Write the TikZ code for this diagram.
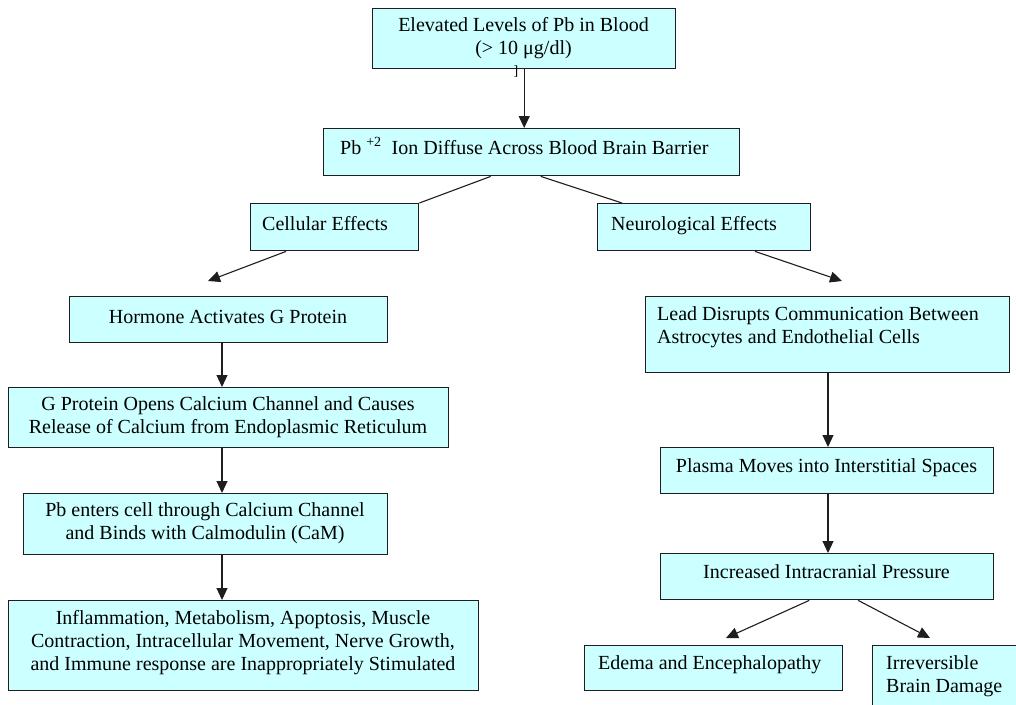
\documentclass[tikz,border=0pt]{standalone}
\usepackage{fontspec}
\setmainfont{Liberation Serif}
\usetikzlibrary{arrows.meta}
\definecolor{boxfill}{RGB}{204,255,255}
\definecolor{edge}{RGB}{30,30,30}
\begin{document}
\begin{tikzpicture}[x=1pt,y=-1pt,
  box/.style={draw=edge, line width=1.4pt, fill=boxfill, inner sep=0pt, anchor=north west},
  txt/.style={inner sep=0pt, font=\fontsize{20}{23}\selectfont, text=black},
  arr/.style={draw=edge, line width=1.1pt, -{Triangle[width=11pt,length=12pt]}},
  ln/.style={draw=edge, line width=1.1pt}]
\useasboundingbox (0,0) rectangle (1016,704);
\clip (0,0) rectangle (1016,704);
\fill[white] (0,0) rectangle (1016,704);

% boxes
\node[box, minimum width=303pt, minimum height=60pt] (top) at (372,8) {};
\node[box, minimum width=416pt, minimum height=47pt] (ion) at (323,128) {};
\node[box, minimum width=168pt, minimum height=47pt] (cell) at (250,203) {};
\node[box, minimum width=213pt, minimum height=47pt] (neuro) at (597,203) {};
\node[box, minimum width=318pt, minimum height=46pt] (horm) at (69,296) {};
\node[box, minimum width=440pt, minimum height=60pt] (gprot) at (8,387) {};
\node[box, minimum width=364pt, minimum height=61pt] (pbent) at (23,493) {};
\node[box, minimum width=470pt, minimum height=90pt] (infl) at (8,600) {};
\node[box, minimum width=364pt, minimum height=76pt] (lead) at (645,296) {};
\node[box, minimum width=333pt, minimum height=46pt] (plasma) at (660,447) {};
\node[box, minimum width=333pt, minimum height=46pt] (icp) at (660,553) {};
\node[box, minimum width=258pt, minimum height=45pt] (edema) at (584,645) {};
\node[box, minimum width=160pt, minimum height=80pt] (irrev) at (872,645) {};

% texts
\node[txt, align=center] (ttop) at (523.5,38) {Elevated Levels of Pb in Blood\\(> 10 μg/dl)};
\node[font=\fontsize{14}{14}\selectfont, inner sep=0pt] (stray) at (516,72) {]};
\node[txt, anchor=base west] (tion) at (340,154) {Pb \textsuperscript{+2}\ \ Ion Diffuse Across Blood Brain Barrier};
\node[txt, anchor=base west] (tcell) at (262,230) {Cellular Effects};
\node[txt, anchor=base west] (tneuro) at (611,230) {Neurological Effects};
\node[txt, anchor=base] (thorm) at (228,323) {Hormone Activates G Protein};
\node[txt, align=center] (tgprot) at (228,417) {G Protein Opens Calcium Channel and Causes\\Release of Calcium from Endoplasmic Reticulum};
\node[txt, align=center] (tpbent) at (205,523.5) {Pb enters cell through Calcium Channel\\and Binds with Calmodulin (CaM)};
\node[txt, align=center] (tinfl) at (243,643) {Inflammation, Metabolism, Apoptosis, Muscle\\Contraction, Intracellular Movement, Nerve Growth,\\and Immune response are Inappropriately Stimulated};
\node[txt, align=left, anchor=north west] (tlead) at (657,306) {Lead Disrupts Communication Between\\Astrocytes and Endothelial Cells};
\node[txt, anchor=base] (tplasma) at (826.5,472) {Plasma Moves into Interstitial Spaces};
\node[txt, anchor=base] (ticp) at (826.5,578) {Increased Intracranial Pressure};
\node[txt, anchor=base west] (tedema) at (598,669) {Edema and Encephalopathy};
\node[txt, align=left, anchor=north west] (tirrev) at (886,655) {Irreversible\\Brain Damage};

% free ends and guide coordinates
\coordinate (lx) at (222,0);
\coordinate (rx) at (828,0);
\coordinate (hormArr) at (208,281);
\coordinate (leadArr) at (842,281);
\coordinate (edemaArr) at (726,638);
\coordinate (irrevArr) at (930,638);

% connectors
\draw[arr] (top.south) -- (top.south |- ion.north);
\draw[ln] ([xshift=-41pt]ion.south) -- (cell.north east);
\draw[ln] ([xshift=9pt]ion.south) -- ([xshift=25pt]neuro.north west);
\draw[arr] ([xshift=36pt]cell.south west) -- (hormArr);
\draw[arr] ([xshift=158pt]neuro.south west) -- (leadArr);
\draw[arr] (horm.south -| lx) -- (gprot.north -| lx);
\draw[arr] (gprot.south -| lx) -- (pbent.north -| lx);
\draw[arr] (pbent.south -| lx) -- (infl.north -| lx);
\draw[arr] (lead.south -| rx) -- (plasma.north -| rx);
\draw[arr] (plasma.south -| rx) -- (icp.north -| rx);
\draw[arr] ([xshift=-18pt]icp.south) -- (edemaArr);
\draw[arr] ([xshift=31pt]icp.south) -- (irrevArr);
\end{tikzpicture}
\end{document}
